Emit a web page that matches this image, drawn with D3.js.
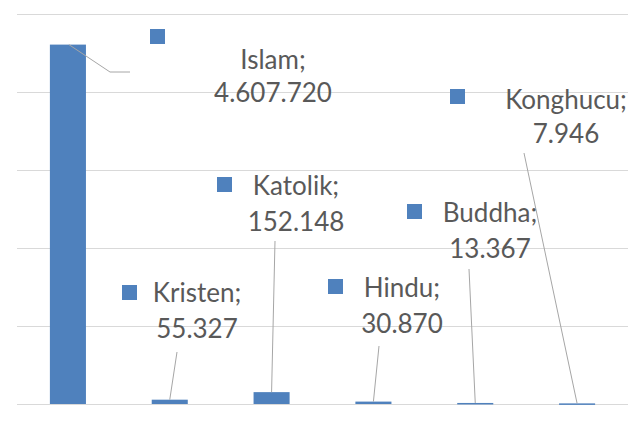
<!DOCTYPE html>
<html>
<head>
<meta charset="utf-8">
<script src="https://cdn.jsdelivr.net/npm/d3@7"></script>
<style>
  body { margin: 0; background: #fff; }
  svg { display: block; }
</style>
</head>
<body>
<svg width="636" height="434"></svg>
<script>
const categories = ["Islam", "Kristen", "Katolik", "Hindu", "Buddha", "Konghucu"];
const values = [4607720, 55327, 152148, 30870, 13367, 7946];
const gridValues = [0, 1000000, 2000000, 3000000, 4000000, 5000000];

// where Excel dropped each data label (square key, text centre, baselines, leader start)
const labelLayout = {
  Islam:    {sq: [150, 29],  cx: 273, b1: 69,  b2: 102, lead: [[130, 72], [110, 72]]},
  Kristen:  {sq: [122, 285], cx: 197, b1: 302, b2: 338, lead: [[177, 352]]},
  Katolik:  {sq: [217, 177], cx: 296, b1: 195, b2: 231, lead: [[275, 241]]},
  Hindu:    {sq: [328, 279], cx: 402, b1: 297, b2: 333, lead: [[379, 346]]},
  Buddha:   {sq: [407, 204], cx: 490, b1: 222, b2: 258, lead: [[469, 269]]},
  Konghucu: {sq: [450, 89],  cx: 566, b1: 109, b2: 143, lead: [[524, 153]]}
};

const svg = d3.select("svg");
const blue = "#4f81bd";
const idFormat = d3.formatLocale({decimal: ",", thousands: ".", grouping: [3], currency: ["Rp", ""]}).format(",");

const x = d3.scaleBand()
  .domain(categories)
  .range([17, 628])
  .paddingInner(0.646)
  .paddingOuter(0.323);

const y = d3.scaleLinear()
  .domain([0, 5000000])
  .range([404, 14]);

// gridlines
svg.append("g")
  .attr("transform", "translate(17,0)")
  .call(d3.axisLeft(y).tickValues(gridValues).tickSize(-611).tickFormat(""))
  .call(g => g.select(".domain").remove())
  .call(g => g.selectAll("line").attr("stroke", "#d9d9d9"));

const data = categories.map((c, i) => ({cat: c, value: values[i]}));

// bars
svg.append("g").selectAll("rect").data(data)
  .enter().append("rect")
    .attr("x", d => x(d.cat))
    .attr("y", d => y(d.value))
    .attr("width", x.bandwidth())
    .attr("height", d => Math.max(1.5, y(0) - y(d.value)))
    .attr("fill", blue);

// leader lines
svg.append("g").selectAll("path").data(data)
  .enter().append("path")
    .attr("d", d => {
      const L = labelLayout[d.cat];
      const end = d.cat === "Islam"
        ? [x(d.cat) + 19, y(d.value)]
        : [x(d.cat) + x.bandwidth() / 2, y(d.value)];
      return d3.line()(L.lead.concat([end]));
    })
    .attr("fill", "none")
    .attr("stroke", "#a6a6a6")
    .attr("stroke-width", 1);

// data labels
const lab = svg.append("g").selectAll("g").data(data)
  .enter().append("g");

lab.append("rect")
  .attr("x", d => labelLayout[d.cat].sq[0])
  .attr("y", d => labelLayout[d.cat].sq[1])
  .attr("width", 15)
  .attr("height", 15)
  .attr("fill", blue);

lab.append("text")
  .attr("x", d => labelLayout[d.cat].cx)
  .attr("y", d => labelLayout[d.cat].b1)
  .text(d => d.cat + ";");

lab.append("text")
  .attr("x", d => labelLayout[d.cat].cx)
  .attr("y", d => labelLayout[d.cat].b2)
  .text(d => idFormat(d.value));

lab.selectAll("text")
  .attr("text-anchor", "middle")
  .attr("font-family", "Lato, 'Open Sans', sans-serif")
  .attr("font-size", 26)
  .attr("fill", "#595959");
</script>
</body>
</html>
